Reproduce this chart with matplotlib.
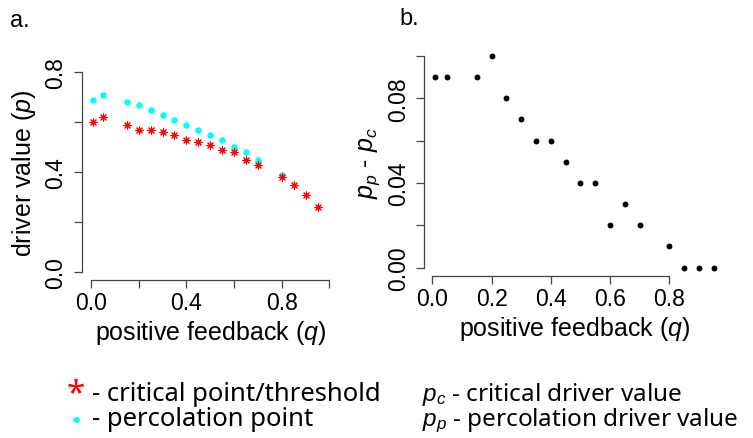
import numpy as np
import matplotlib
matplotlib.use("Agg")
import matplotlib.pyplot as plt

plt.rcParams['font.family'] = ['Liberation Sans', 'DejaVu Sans']
plt.rcParams['mathtext.fontset'] = 'custom'
plt.rcParams['mathtext.rm'] = 'Liberation Sans'
plt.rcParams['mathtext.it'] = 'Liberation Sans:italic'

# positive feedback values
q = [0.01, 0.05, 0.15, 0.20, 0.25, 0.30, 0.35, 0.40, 0.45,
     0.50, 0.55, 0.60, 0.65, 0.70, 0.80, 0.85, 0.90, 0.95]
# percolation point (p_p)
p_perc = [0.69, 0.71, 0.68, 0.67, 0.65, 0.63, 0.61, 0.59, 0.57,
          0.55, 0.53, 0.50, 0.48, 0.45, 0.39, 0.35, 0.31, 0.26]
# critical point / threshold (p_c)
p_crit = [0.60, 0.62, 0.59, 0.57, 0.57, 0.56, 0.55, 0.53, 0.52,
          0.51, 0.49, 0.48, 0.45, 0.43, 0.38, 0.35, 0.31, 0.26]
# difference p_p - p_c
p_diff = [0.09, 0.09, 0.09, 0.10, 0.08, 0.07, 0.06, 0.06, 0.05,
          0.04, 0.04, 0.02, 0.03, 0.02, 0.01, 0.00, 0.00, 0.00]

W, H = 753, 439
fig = plt.figure(figsize=(W / 100, H / 100), dpi=100)


def px_axes(l, t, r, b):
    return fig.add_axes([l / W, 1 - b / H, (r - l) / W, (b - t) / H])


def r_style(ax, xb, yb):
    for s in ('top', 'right'):
        ax.spines[s].set_visible(False)
    for s in ('left', 'bottom'):
        ax.spines[s].set_color('#444444')
        ax.spines[s].set_linewidth(0.9)
    ax.spines['bottom'].set_bounds(*xb)
    ax.spines['left'].set_bounds(*yb)
    ax.tick_params(colors='#444444', length=5.5, width=0.9, labelcolor='black',
                   labelsize=16.5)
    ax.tick_params(axis='y', pad=4.5)
    ax.tick_params(axis='x', pad=2.5)
    for lab in ax.get_yticklabels():
        lab.set_rotation(90)
        lab.set_va('center')


def fmt(ticks, shown, digits):
    return [f"{t:.{digits}f}" if i in shown else "" for i, t in enumerate(ticks)]


# --- panel a ---
ax1 = px_axes(81.5, 65, 339, 281)
ax1.scatter(q[:15], p_perc[:15], s=22, color='#00FFFF', zorder=2, linewidths=0)
ax1.scatter(q, p_crit, s=26, color='#FF0000', marker=(8, 2, 0), linewidths=0.8, zorder=3)
ax1.set_xlim(-0.04, 1.04)
ax1.set_ylim(-0.032, 0.832)
xt = [0.0, 0.2, 0.4, 0.6, 0.8, 1.0]
yt = [0.0, 0.2, 0.4, 0.6, 0.8]
ax1.set_xticks(xt, fmt(xt, {0, 2, 4}, 1))
ax1.set_yticks(yt, fmt(yt, {0, 2, 4}, 1))
r_style(ax1, (0, 1), (0, 0.8))
ax1.set_xlabel(r'positive feedback ($q$)', fontsize=18, labelpad=3)
ax1.set_ylabel(r'driver value ($p$)', fontsize=18, labelpad=5)

# --- panel b ---
ax2 = px_axes(424.3, 48.4, 724.8, 277)
ax2.scatter(q, p_diff, s=18, color='black', linewidths=0)
ax2.set_xlim(-0.0276, 0.9876)
ax2.set_ylim(-0.004, 0.104)
xt2 = [0.0, 0.2, 0.4, 0.6, 0.8]
yt2 = [0.00, 0.02, 0.04, 0.06, 0.08, 0.10]
ax2.set_xticks(xt2, fmt(xt2, set(range(5)), 1))
ax2.set_yticks(yt2, fmt(yt2, {0, 2, 4}, 2))
r_style(ax2, (0, 0.8), (0, 0.1))
ax2.set_xlabel(r'positive feedback ($q$)', fontsize=18, labelpad=3)
ax2.set_ylabel(r'$p_p$ - $p_c$', fontsize=18, labelpad=4)

# panel letters
fig.text(10 / W, 1 - 27 / H, 'a.', fontsize=17)
fig.text(399 / W, 1 - 25 / H, 'b.', fontsize=17)

# key below the panels
fam = ['Noto Sans', 'DejaVu Sans']
fig.text(67 / W, 1 - 403 / H, '*', color='#FF0000', fontsize=24, family=fam)
fig.text(70 / W, 1 - 428 / H, '\u2022', color='#00FFFF', fontsize=16,
         family=['DejaVu Sans'])
fig.text(92 / W, 1 - 401 / H, '- critical point/threshold', fontsize=18.5, family=fam)
fig.text(92 / W, 1 - 426 / H, '- percolation point', fontsize=18.5, family=fam)
fig.text(422 / W, 1 - 401 / H, r'$p_c$ - critical driver value', fontsize=17.5, family=fam)
fig.text(422 / W, 1 - 426 / H, r'$p_p$ - percolation driver value', fontsize=17.5, family=fam)

fig.savefig('out.png', dpi=100)
